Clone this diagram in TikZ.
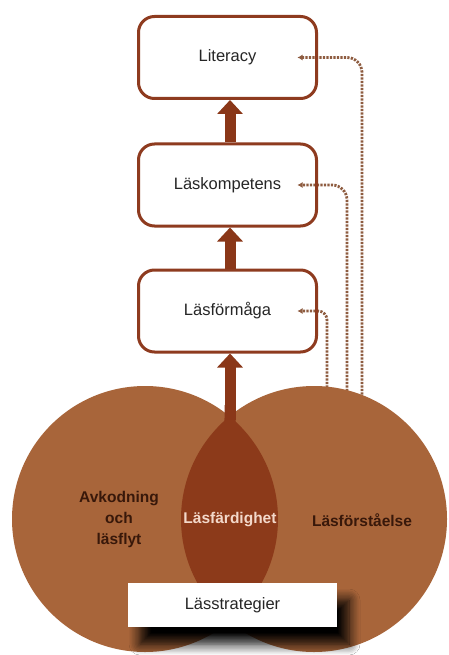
\documentclass[tikz,border=0pt]{standalone}
\usepackage{fontspec}
\setmainfont{Liberation Sans}
\usetikzlibrary{arrows.meta,shadows.blur}
\definecolor{boxbrd}{HTML}{8E3B1F}
\definecolor{arrowcol}{HTML}{8A3718}
\definecolor{circcol}{HTML}{A8653A}
\definecolor{lenscol}{HTML}{8C3A1A}
\definecolor{dotcol}{HTML}{8E5C40}
\definecolor{boxtxt}{HTML}{262626}
\definecolor{circtxt}{HTML}{38180A}
\definecolor{lenstxt}{HTML}{F3D8CA}
\begin{document}
\begin{tikzpicture}[x=1pt,y=-1pt,
  stepbox/.style={draw=boxbrd, line width=3pt, rounded corners=16pt,
    minimum width=178pt, minimum height=82pt, inner sep=0pt,
    text=boxtxt, font=\fontsize{16.5}{20}\selectfont},
  bigarrow/.style={draw=arrowcol, line width=11pt,
    -{Triangle[width=25pt,length=14pt]}},
  dotline/.style={draw=dotcol, line width=2.8pt, dash pattern=on 2.2pt off 1.3pt,
    -{Latex[length=5pt,width=6pt]}},
  circlabel/.style={text=circtxt, align=center, font=\bfseries\fontsize{15.5}{21}\selectfont},
  stratbox/.style={fill=white, minimum width=209pt, minimum height=44pt,
    inner sep=0pt, text=boxtxt, font=\fontsize{16.5}{20}\selectfont}
]
\fill[white] (0,0) rectangle (448,655);
\useasboundingbox (0,0) rectangle (448,655);

% dotted feedback lines (drawn first, boxes and circles on top)
\coordinate (d1) at (362,405);
\coordinate (d2) at (347,405);
\coordinate (d3) at (327,405);
\coordinate (lit0) at (297.5,57.5);
\coordinate (komp0) at (297.5,185);
\coordinate (form0) at (297.5,311);
\draw[dotline, rounded corners=15pt] (d1) |- (lit0);
\draw[dotline, rounded corners=15pt] (d2) |- (komp0);
\draw[dotline, rounded corners=9pt] (d3) |- (form0);

% boxes
\node[stepbox] (lit) at (227.5,57.5) {Literacy};
\node[stepbox] (komp) at (227.5,185) {Läskompetens};
\node[stepbox] (form) at (227.5,311) {Läsförmåga};

% circles and lens
\fill[circcol] (145,519) circle[radius=133pt];
\fill[circcol] (314,519) circle[radius=133pt];
\begin{scope}
  \clip (145,519) circle[radius=133pt];
  \fill[lenscol] (314,519) circle[radius=133pt];
\end{scope}
\fill[lenscol] (224.5,405) -- (224.5,418) .. controls (224.5,428) and (220,433) .. (215,442)
  -- (245,442) .. controls (240,433) and (235.5,428) .. (235.5,418) -- (235.5,405) -- cycle;

% arrows
\coordinate (lenstop) at (230,420);
\draw[bigarrow] ([xshift=2.5pt]komp.north) -- ([xshift=2.5pt]lit.south);
\draw[bigarrow] ([xshift=2.5pt]form.north) -- ([xshift=2.5pt]komp.south);
\draw[bigarrow] (lenstop) -- ([xshift=2.5pt]form.south);

% circle labels
\node[circlabel] (avk) at (119,519) {Avkodning\\och\\läsflyt};
\node[circlabel, text=lenstxt] (fard) at (230,520) {Läsfärdighet};
\node[circlabel] (forst) at (362,520) {Läsförståelse};

% strategies box
\node[stratbox, blur shadow={shadow xshift=12pt, shadow yshift=-17pt,
  shadow blur radius=11pt, shadow opacity=100, shadow blur steps=8}] (strat) at (232.5,605) {Lässtrategier};
\end{tikzpicture}
\end{document}
